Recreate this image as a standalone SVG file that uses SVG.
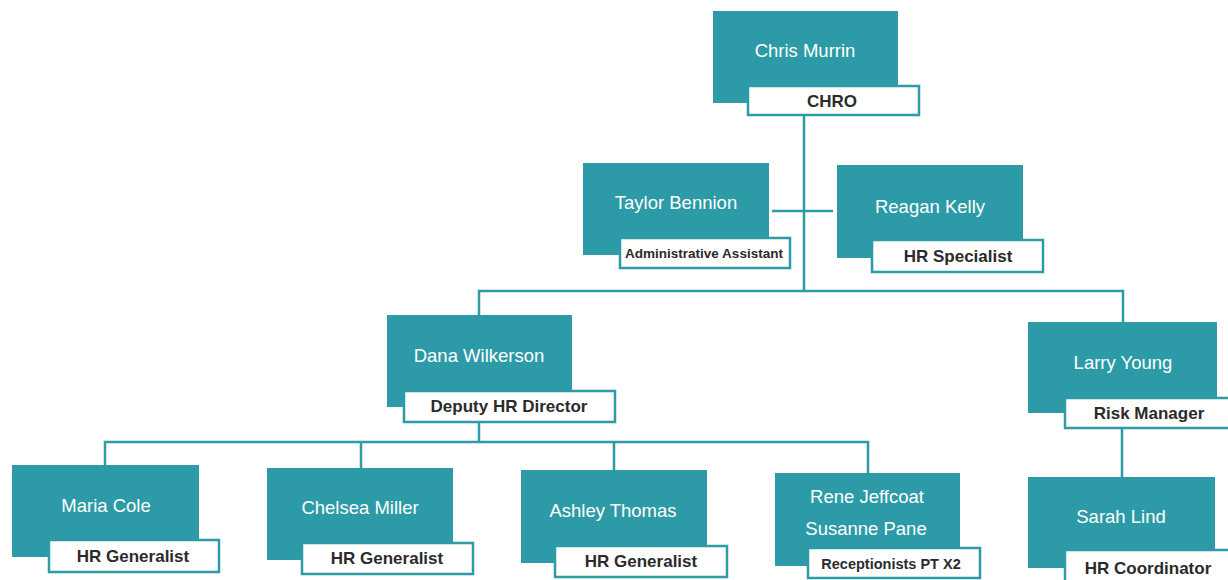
<svg xmlns="http://www.w3.org/2000/svg" width="1228" height="580" viewBox="0 0 1228 580">
<style>
.box{fill:#2C9BA7}
.lab{fill:#fff;stroke:#2C9BA7;stroke-width:2.5}
.nm{font-family:"Liberation Sans",Arial,sans-serif;font-size:18.5px;fill:#fff;text-anchor:middle}
.tt{font-family:"Liberation Sans",Arial,sans-serif;font-size:17px;font-weight:bold;fill:#2b2b2b;text-anchor:middle}
.ln{stroke:#2C9BA7;stroke-width:2.5;fill:none}
</style>
<rect width="1228" height="580" fill="#fff"/>
<g id="connectors">
<path class="ln" d="M804 115 V291"/>
<path class="ln" d="M772 211 H833"/>
<path class="ln" d="M479 315 V291 H1123 V322"/>
<path class="ln" d="M479 422 V443"/>
<path class="ln" d="M105 465 V442 H868 V473"/>
<path class="ln" d="M361 442 V468"/>
<path class="ln" d="M614 442 V470"/>
<path class="ln" d="M1122 428 V477"/>
</g>
<g id="chris">
<rect class="box" x="713" y="11" width="185" height="92"/>
<rect class="lab" x="748" y="86" width="171" height="29"/>
<text class="nm" x="805" y="57">Chris Murrin</text>
<text class="tt" x="832" y="107">CHRO</text>
</g>
<g id="taylor">
<rect class="box" x="583" y="163" width="186" height="92"/>
<rect class="lab" x="620" y="238" width="170" height="30"/>
<text class="nm" x="676" y="209">Taylor Bennion</text>
<text class="tt" x="704" y="258" style="font-size:13.5px">Administrative Assistant</text>
</g>
<g id="reagan">
<rect class="box" x="837" y="165" width="186" height="93"/>
<rect class="lab" x="872" y="240" width="171" height="32"/>
<text class="nm" x="930" y="213">Reagan Kelly</text>
<text class="tt" x="958" y="262">HR Specialist</text>
</g>
<g id="dana">
<rect class="box" x="387" y="315" width="185" height="92"/>
<rect class="lab" x="404" y="391" width="211" height="31"/>
<text class="nm" x="479" y="362">Dana Wilkerson</text>
<text class="tt" x="509" y="412">Deputy HR Director</text>
</g>
<g id="larry">
<rect class="box" x="1028" y="322" width="189" height="91"/>
<rect class="lab" x="1065" y="398" width="170" height="30"/>
<text class="nm" x="1123" y="369">Larry Young</text>
<text class="tt" x="1149" y="419">Risk Manager</text>
</g>
<g id="sarah">
<rect class="box" x="1028" y="477" width="187" height="91"/>
<rect class="lab" x="1065" y="550" width="170" height="40"/>
<text class="nm" x="1121" y="523">Sarah Lind</text>
<text class="tt" x="1148" y="574">HR Coordinator</text>
</g>
<g id="maria">
<rect class="box" x="12" y="465" width="187" height="92"/>
<rect class="lab" x="49" y="540" width="170" height="32"/>
<text class="nm" x="106" y="512">Maria Cole</text>
<text class="tt" x="133" y="562">HR Generalist</text>
</g>
<g id="chelsea">
<rect class="box" x="267" y="468" width="186" height="92"/>
<rect class="lab" x="302" y="543" width="171" height="31"/>
<text class="nm" x="360" y="514">Chelsea Miller</text>
<text class="tt" x="387" y="564">HR Generalist</text>
</g>
<g id="ashley">
<rect class="box" x="521" y="470" width="186" height="93"/>
<rect class="lab" x="555" y="546" width="172" height="31"/>
<text class="nm" x="613" y="517">Ashley Thomas</text>
<text class="tt" x="641" y="567">HR Generalist</text>
</g>
<g id="rene">
<rect class="box" x="775" y="473" width="185" height="93"/>
<rect class="lab" x="808" y="548" width="172" height="30"/>
<text class="nm" x="867" y="503">Rene Jeffcoat</text>
<text class="nm" x="866" y="535">Susanne Pane</text>
<text class="tt" x="891" y="569" style="font-size:14.5px">Receptionists PT X2</text>
</g>
</svg>
